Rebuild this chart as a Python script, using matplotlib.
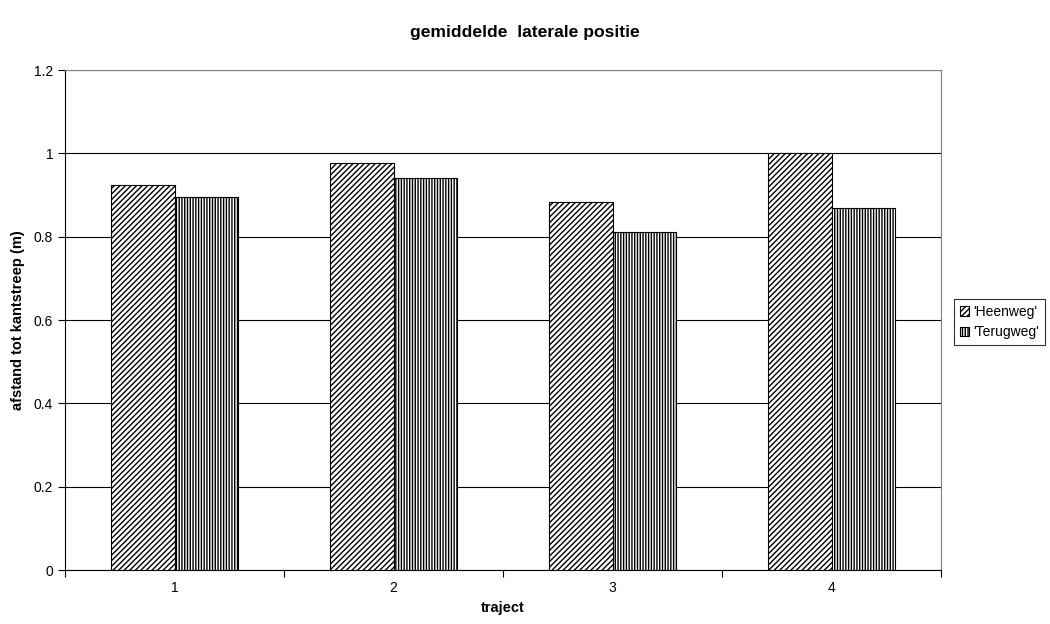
import matplotlib
matplotlib.use("Agg")
import matplotlib.pyplot as plt
import numpy as np

plt.rcParams['font.family'] = ['Liberation Sans', 'DejaVu Sans']
plt.rcParams['hatch.linewidth'] = 1.0

categories = ['1', '2', '3', '4']
heenweg = [0.924, 0.977, 0.883, 1.001]
terugweg = [0.895, 0.941, 0.811, 0.869]
series_names = ["'Heenweg'", "'Terugweg'"]
y_ticks = [0, 0.2, 0.4, 0.6, 0.8, 1.0, 1.2]
y_tick_labels = ['0', '0.2', '0.4', '0.6', '0.8', '1', '1.2']

fig = plt.figure(figsize=(10.5, 6.24), dpi=100)
ax = fig.add_axes([65 / 1050, 1 - 570 / 624, 876 / 1050, 500 / 624])

x = np.arange(len(categories)) + 0.5
w = 0.292
ax.bar(x - w / 2, heenweg, width=w, color='white', edgecolor='black',
       hatch='//////', linewidth=0.8, label=series_names[0], zorder=3)
ax.bar(x + w / 2, terugweg, width=w, color='white', edgecolor='black',
       hatch='||||||', linewidth=0.8, label=series_names[1], zorder=3)

ax.set_xlim(0, len(categories))
ax.set_ylim(0, 1.2)

# tick marks on category boundaries, labels centred under each group
ax.set_xticks(np.arange(len(categories) + 1))
ax.set_xticklabels([])
ax.set_xticks(x, minor=True)
ax.set_xticklabels(categories, minor=True)
ax.tick_params(axis='x', which='major', length=5, direction='out', width=0.8)
ax.tick_params(axis='x', which='minor', length=0, pad=8, labelsize=10)

ax.set_yticks(y_ticks)
ax.set_yticklabels(y_tick_labels)
ax.tick_params(axis='y', length=5, direction='out', width=0.8, labelsize=10)

ax.yaxis.grid(True, color='black', linewidth=0.8, zorder=0)
ax.set_axisbelow(True)

for side in ['left', 'bottom']:
    ax.spines[side].set_color('black')
    ax.spines[side].set_linewidth(0.8)
for side in ['top', 'right']:
    ax.spines[side].set_color('#808080')
    ax.spines[side].set_linewidth(0.8)

ax.set_xlabel('traject', fontweight='bold', fontsize=10.5, labelpad=4)
ax.set_ylabel('afstand tot kantstreep (m)', fontweight='bold', fontsize=10.5, labelpad=6)
fig.text(0.5, 1 - 33 / 624, 'gemiddelde  laterale positie', ha='center', va='center',
         fontweight='bold', fontsize=12.6)

leg = fig.legend(loc='center left', bbox_to_anchor=(954 / 1050, 1 - 322 / 624),
                 fontsize=10, frameon=True, fancybox=False, edgecolor='black',
                 handlelength=0.7, handleheight=0.7, handletextpad=0.3,
                 borderpad=0.4, labelspacing=0.5, borderaxespad=0)
leg.get_frame().set_linewidth(0.8)

fig.savefig('out.png', dpi=100)
